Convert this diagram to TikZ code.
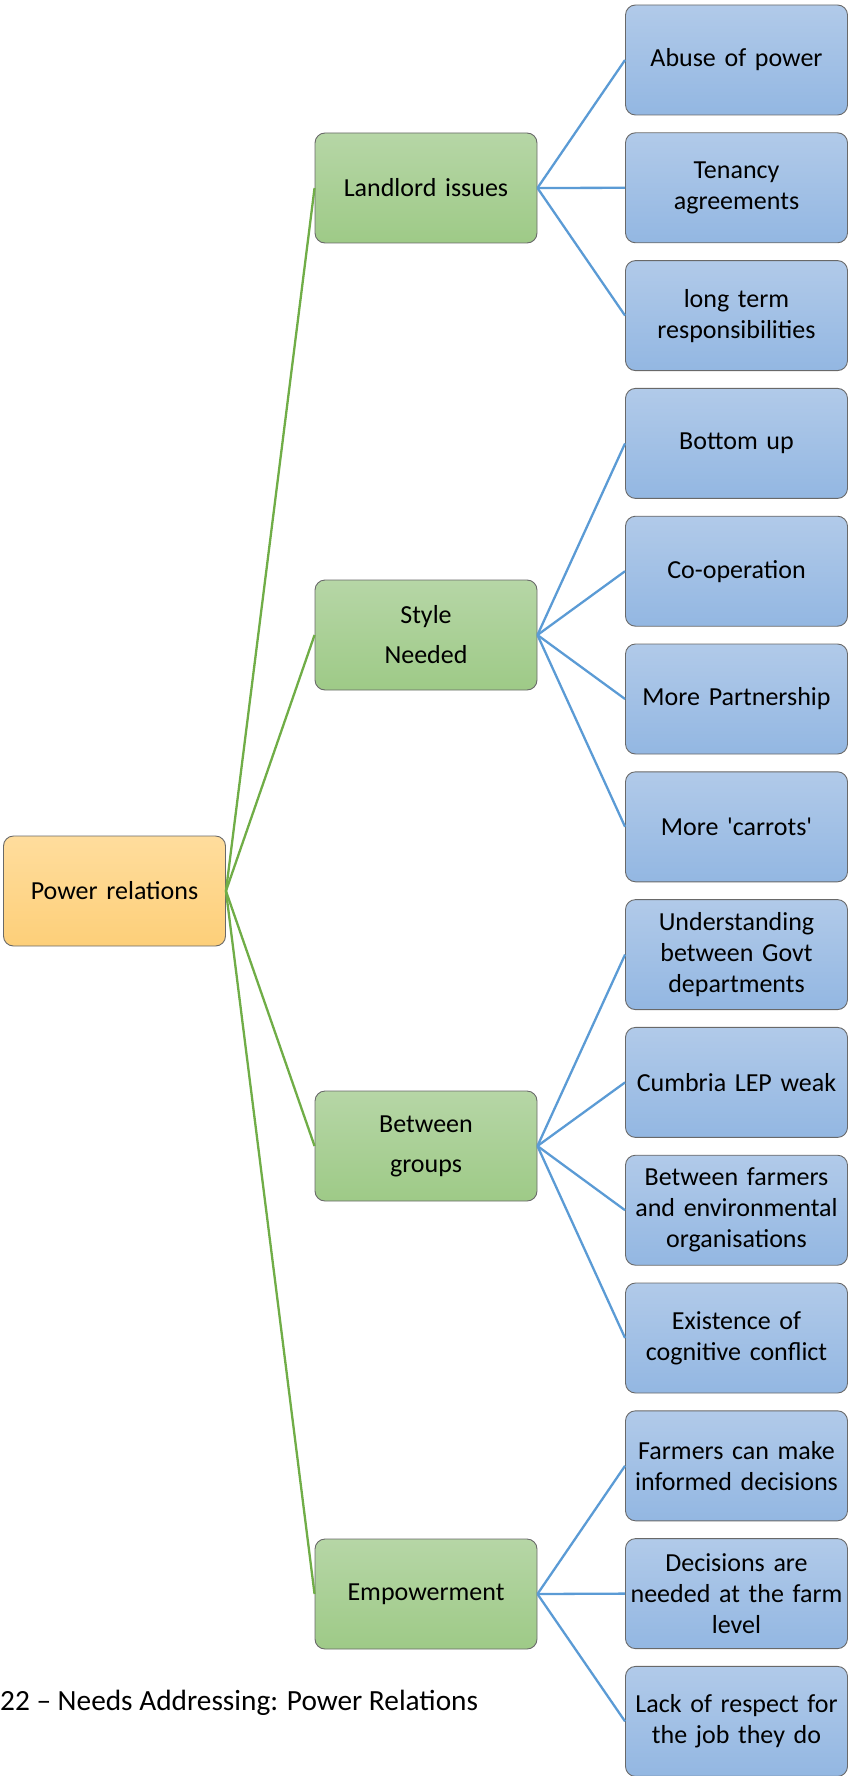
\documentclass[tikz,border=0pt]{standalone}
\usepackage{fontspec}
\setmainfont{Carlito}
\definecolor{rootTop}{RGB}{255,221,157}
\definecolor{rootBot}{RGB}{253,207,121}
\definecolor{midTop}{RGB}{182,214,166}
\definecolor{midBot}{RGB}{158,202,135}
\definecolor{leafTop}{RGB}{177,202,233}
\definecolor{leafBot}{RGB}{147,183,226}
\definecolor{frame}{RGB}{105,105,105}
\definecolor{gLine}{RGB}{112,173,71}
\definecolor{bLine}{RGB}{91,155,213}
\begin{document}
\begin{tikzpicture}[x=1pt,y=-1pt,
  box/.style={rounded corners=10pt, draw=frame, line width=0.9pt,
    minimum width=222pt, minimum height=110pt, inner sep=3pt,
    align=center, text width=216pt,
    font=\fontsize{26}{31}\selectfont},
  rootbox/.style={box, top color=rootTop, bottom color=rootBot},
  midbox/.style={box, top color=midTop, bottom color=midBot},
  leafbox/.style={box, top color=leafTop, bottom color=leafBot},
  wide/.style={font=\fontsize{26}{40}\selectfont},
  gline/.style={draw=gLine, line width=2.3pt},
  bline/.style={draw=bLine, line width=2.3pt}
]
\useasboundingbox (0,0) rectangle (848,1776);

% root
\node[rootbox] (root) at (114.5,891) {Power relations};

% second level
\node[midbox] (land) at (426,188) {Landlord issues};
\node[midbox, wide] (style) at (426,635) {Style\\Needed};
\node[midbox, wide] (betw) at (426,1146) {Between\\groups};
\node[midbox] (emp) at (426,1594) {Empowerment};

% leaves
\node[leafbox] (l1) at (736.5,60) {Abuse of power};
\node[leafbox] (l2) at (736.5,187.8) {Tenancy\\agreements};
\node[leafbox] (l3) at (736.5,315.6) {long term\\responsibilities};
\node[leafbox] (l4) at (736.5,443.4) {Bottom up};
\node[leafbox] (l5) at (736.5,571.2) {Co-operation};
\node[leafbox] (l6) at (736.5,699) {More Partnership};
\node[leafbox] (l7) at (736.5,826.8) {More \textquotesingle carrots\textquotesingle};
\node[leafbox] (l8) at (736.5,954.6) {Understanding\\between Govt\\departments};
\node[leafbox] (l9) at (736.5,1082.4) {Cumbria LEP weak};
\node[leafbox] (l10) at (736.5,1210.2) {Between farmers\\and environmental\\organisations};
\node[leafbox] (l11) at (736.5,1338) {Existence of\\cognitive conflict};
\node[leafbox] (l12) at (736.5,1465.8) {Farmers can make\\informed decisions};
\node[leafbox] (l13) at (736.5,1593.6) {Decisions are\\needed at the farm\\level};
\node[leafbox] (l14) at (736.5,1721.4) {Lack of respect for\\the job they do};

% connectors
\foreach \m in {land,style,betw,emp}
  \draw[gline] (root.east) -- (\m.west);
\foreach \l in {l1,l2,l3} \draw[bline] (land.east) -- (\l.west);
\foreach \l in {l4,l5,l6,l7} \draw[bline] (style.east) -- (\l.west);
\foreach \l in {l8,l9,l10,l11} \draw[bline] (betw.east) -- (\l.west);
\foreach \l in {l12,l13,l14} \draw[bline] (emp.east) -- (\l.west);

% caption
\node[anchor=west, inner sep=0pt, font=\fontsize{29.3}{35}\selectfont] (cap) at (0,1703)
  {22 – Needs Addressing: Power Relations};
\end{tikzpicture}
\end{document}
